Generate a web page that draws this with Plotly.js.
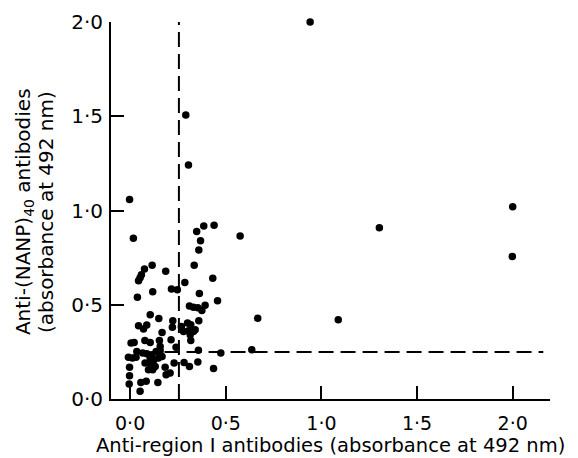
<!DOCTYPE html>
<html>
<head>
<meta charset="utf-8">
<script src="https://cdn.plot.ly/plotly-3.0.1.min.js"></script>
<style>html,body{margin:0;padding:0;background:#fff;}#chart{width:578px;height:458px;}</style>
</head>
<body>
<div id="chart"></div>
<script>
// Anti-region I antibodies (x) vs Anti-(NANP)40 antibodies (y), absorbance at 492 nm
const xVals = [
  0.305,-0.003,0.017,0.348,0.385,0.439,0.575,0.368,0.359,0.335,
  0.115,0.075,0.059,0.052,0.044,0.186,0.432,0.286,0.216,0.247,
  0.038,0.118,0.362,0.457,0.310,0.331,0.354,0.375,0.392,0.359,
  0.667,0.105,0.150,0.044,0.087,0.070,0.223,0.221,0.268,0.300,
  0.317,0.279,0.305,0.331,0.340,0.314,0.167,0.077,0.105,0.153,
  0.005,0.021,0.214,0.317,0.157,0.240,0.035,0.066,0.087,0.113,
  0.136,0.157,0.167,0.357,0.474,0.636,-0.009,0.012,0.031,0.105,
  0.125,0.148,0.078,0.105,0.131,0.096,0.118,0.183,0.188,0.209,
  0.230,0.282,0.310,0.354,0.436,-0.003,-0.003,-0.005,0.056,0.084,
  0.145,0.052,
  0.941,0.291,2.000,1.998,1.303,1.088
];
const yVals = [
  1.241,1.059,0.853,0.888,0.918,0.922,0.865,0.840,0.791,0.710,
  0.710,0.689,0.659,0.643,0.627,0.678,0.641,0.618,0.583,0.579,
  0.540,0.569,0.560,0.521,0.494,0.487,0.484,0.470,0.498,0.415,
  0.429,0.447,0.427,0.388,0.392,0.371,0.415,0.380,0.385,0.403,
  0.394,0.358,0.362,0.358,0.367,0.341,0.353,0.311,0.300,0.311,
  0.297,0.300,0.314,0.311,0.279,0.274,0.252,0.244,0.240,0.235,
  0.252,0.256,0.226,0.258,0.244,0.261,0.222,0.217,0.222,0.217,
  0.208,0.217,0.191,0.187,0.173,0.155,0.155,0.169,0.129,0.138,
  0.191,0.194,0.173,0.196,0.162,0.169,0.124,0.079,0.088,0.094,
  0.088,0.041,
  2.000,1.506,1.020,0.756,0.909,0.420
];
// cut-off lines
const cutoffX = 0.255;
const cutoffY = 0.25;
const vLineY = [0, 2.0];
const hLineX = [0.18, 2.16];
const tickVals = [0, 0.5, 1.0, 1.5, 2.0];
const tickText = ["0·0", "0·5", "1·0", "1·5", "2·0"];

const FONT = "DejaVu Sans, sans-serif";
const dashStyle = {color: "#000", width: 2, dash: "15px,7px"};

const traces = [
  {x: [cutoffX, cutoffX], y: vLineY, mode: "lines", line: dashStyle, hoverinfo: "skip", cliponaxis: false},
  {x: hLineX, y: [cutoffY, cutoffY], mode: "lines", line: dashStyle, hoverinfo: "skip", cliponaxis: false},
  {x: xVals, y: yVals, mode: "markers", type: "scatter",
   marker: {color: "#000", size: 7.5, line: {width: 0}}, cliponaxis: false}
];

const axisCommon = {
  showline: true, linecolor: "#000", linewidth: 2,
  ticks: "inside", ticklen: 13, tickwidth: 2, tickcolor: "#000",
  showgrid: false, zeroline: false,
  tickmode: "array", tickvals: tickVals, ticktext: tickText,
  tickfont: {family: FONT, size: 19, color: "#000"}
};

const layout = {
  width: 578, height: 458,
  margin: {l: 111, r: 28, t: 22, b: 59},
  paper_bgcolor: "#fff", plot_bgcolor: "#fff",
  showlegend: false,
  xaxis: Object.assign({}, axisCommon, {range: [-0.1, 2.195], ticklabelstandoff: 6}),
  yaxis: Object.assign({}, axisCommon, {range: [0, 2.0], ticklabelstandoff: 2,
    tickfont: {family: FONT, size: 20, color: "#000"}}),
  annotations: [
    {text: "Anti-region I antibodies (absorbance at 492 nm)", xref: "paper", yref: "paper",
     x: 0.5, y: -0.124, xanchor: "center", yanchor: "middle", showarrow: false,
     font: {family: FONT, size: 19.5, color: "#000"}},
    {text: "Anti-(NANP)<sub>40</sub> antibodies", xref: "paper", yref: "paper",
     x: -0.198, y: 0.496, xanchor: "center", yanchor: "middle", showarrow: false, textangle: -90,
     font: {family: FONT, size: 20, color: "#000"}},
    {text: "(absorbance at 492 nm)", xref: "paper", yref: "paper",
     x: -0.148, y: 0.496, xanchor: "center", yanchor: "middle", showarrow: false, textangle: -90,
     font: {family: FONT, size: 20, color: "#000"}}
  ]
};

Plotly.newPlot("chart", traces, layout, {staticPlot: true, displayModeBar: false});
</script>
</body>
</html>
